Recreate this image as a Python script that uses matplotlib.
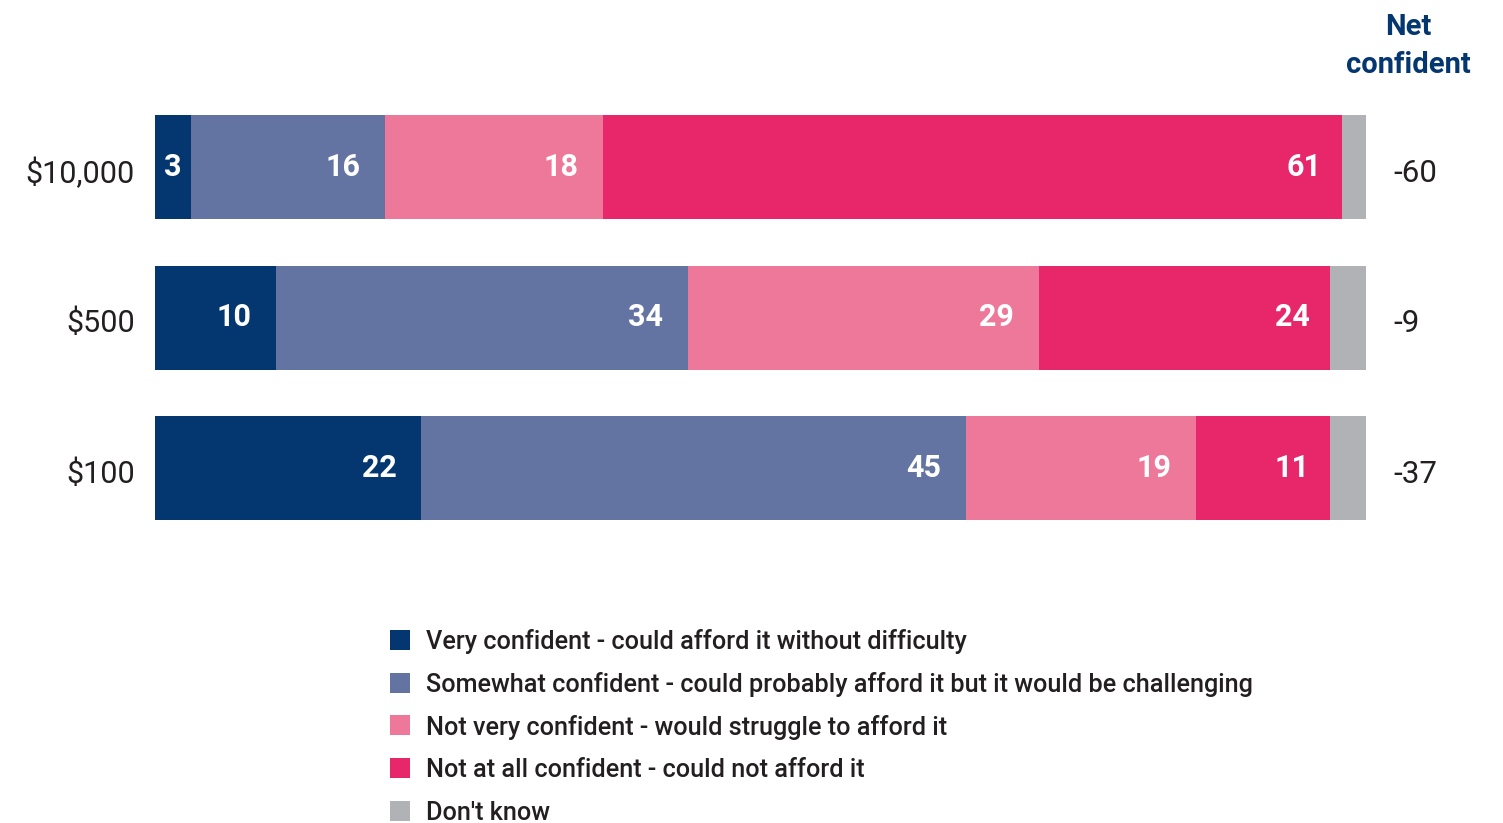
import matplotlib
matplotlib.use("Agg")
import matplotlib.pyplot as plt
from matplotlib.patches import Rectangle
import numpy as np

plt.rcParams['font.family'] = ['Roboto', 'DejaVu Sans']

# Survey data: confidence in covering an unexpected expense (%)
amounts = ["$10,000", "$500", "$100"]
categories = [
    "Very confident - could afford it without difficulty",
    "Somewhat confident - could probably afford it but it would be challenging",
    "Not very confident - would struggle to afford it",
    "Not at all confident - could not afford it",
    "Don't know",
]
very_confident = [3, 10, 22]
somewhat_confident = [16, 34, 45]
not_very_confident = [18, 29, 19]
not_at_all_confident = [61, 24, 11]
dont_know = [2, 3, 3]
net_confident = ["-60", "-9", "-37"]

colors = ["#043670", "#6374a3", "#ee7899", "#e8276b", "#b1b2b6"]
text_dark = "#231f20"
navy = "#043670"

W, H = 1503, 823
fig = plt.figure(figsize=(W / 100, H / 100), dpi=100)

ax_left, ax_right = 155, 1366
ax_top, ax_bottom = 91.75, 543.25
ax = fig.add_axes([ax_left / W, 1 - ax_bottom / H,
                   (ax_right - ax_left) / W, (ax_bottom - ax_top) / H])

series = [very_confident, somewhat_confident, not_very_confident,
          not_at_all_confident, dont_know]
y = np.arange(len(amounts))
bar_h = 104 / 150.5
left = np.zeros(len(amounts))
px_per_unit = (ax_right - ax_left) / 100.0

for si, (vals, col) in enumerate(zip(series, colors)):
    vals = np.array(vals, dtype=float)
    ax.barh(y, vals, left=left, height=bar_h, color=col, linewidth=0)
    if si < 4:
        for yi, (l, v) in enumerate(zip(left, vals)):
            seg_px = v * px_per_unit
            if seg_px < 60:
                ax.text(l + v / 2, yi, f"{int(v)}", ha="center", va="center",
                        color="white", fontsize=22, fontweight="bold")
            else:
                pad = 25 if si < 3 else 20
                ax.text(l + v - pad / px_per_unit, yi, f"{int(v)}", ha="right",
                        va="center", color="white", fontsize=22, fontweight="bold")
    left = left + vals

ax.set_xlim(0, 100)
ax.set_ylim(len(amounts) - 0.5, -0.5)
ax.axis("off")

# Row labels and net confidence column
for yi, (amt, net) in enumerate(zip(amounts, net_confident)):
    ax.text(-20 / px_per_unit, yi + 0.04, amt, ha="right", va="center",
            fontsize=22, color=text_dark)
    ax.text(100 + 27 / px_per_unit, yi + 0.04, net, ha="left", va="center",
            fontsize=22.5, color=text_dark)

fig.text(1408 / W, 1 - 27 / H, "Net", ha="center", va="center",
         fontsize=21, fontweight="bold", color=navy)
fig.text(1408 / W, 1 - 65 / H, "confident", ha="center", va="center",
         fontsize=21, fontweight="bold", color=navy)

# Legend
leg_y0, leg_dy = 640, 42.7
for i, (lab, col) in enumerate(zip(categories, colors)):
    yc = leg_y0 + i * leg_dy
    fig.patches.append(Rectangle((390 / W, 1 - (yc + 10) / H), 20 / W, 20 / H,
                                 transform=fig.transFigure, facecolor=col,
                                 edgecolor="none"))
    fig.text(426 / W, 1 - (yc + 2) / H, lab, ha="left", va="center",
             fontsize=18.2, fontweight="medium", color=text_dark)

fig.savefig("out.png", dpi=100, facecolor="white")
